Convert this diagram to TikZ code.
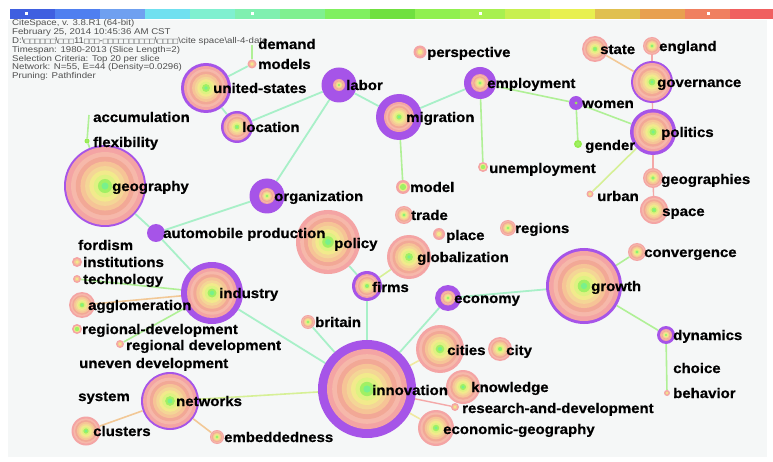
\documentclass[tikz,border=0pt]{standalone}
\usepackage{fontspec}
\setmainfont{Liberation Sans}
\newfontfamily\lblfont[FakeStretch=1.07,FakeBold=0.6]{Liberation Sans}
\newfontfamily\hdrfont[FakeStretch=1.15]{Liberation Sans}
\newfontfamily\sqfont{DejaVu Sans}
\pgfdeclarelayer{back}
\pgfdeclarelayer{edges}
\pgfsetlayers{back,edges,main}
\definecolor{cbg}{RGB}{245,247,247}
\definecolor{chdr}{RGB}{80,80,80}
\definecolor{cpurple}{RGB}{166,84,232}
\definecolor{cA1}{RGB}{244,164,164}
\definecolor{cA2}{RGB}{246,184,170}
\definecolor{cA3}{RGB}{242,168,150}
\definecolor{cA4}{RGB}{246,196,150}
\definecolor{cA5}{RGB}{244,214,150}
\definecolor{cA6}{RGB}{242,234,140}
\definecolor{cA7}{RGB}{222,242,130}
\definecolor{cA8}{RGB}{160,240,100}
\definecolor{cA9}{RGB}{120,240,140}
\definecolor{cG1}{RGB}{150,236,80}
\definecolor{cemint}{RGB}{168,240,200}
\definecolor{cegreen}{RGB}{176,240,150}
\definecolor{ceyg}{RGB}{214,240,150}
\definecolor{ceyel}{RGB}{240,232,160}
\definecolor{ceora}{RGB}{242,200,150}
\definecolor{cepink}{RGB}{244,168,168}
\def\palA{1/cA1,0.87/cA2,0.75/cA3,0.63/cA4,0.51/cA5,0.40/cA6,0.29/cA7,0.18/cA8,0.09/cA9}
\def\palS{1/cA1,0.62/cA4,0.35/cA6}
\def\palSG{1/cA1,0.65/cA6,0.45/cA8}
\def\palG{1/cG1,0.5/cA8}
\newcommand\kwnode[6]{%
  \ifdim #4pt>#5pt \fill[cpurple] (#2,#3) circle (#4);\fi
  \ifdim #5pt>0pt
    \foreach \f/\c in #6 {\fill[\c] (#2,#3) circle ({\f*#5});}
  \fi
  \node[circle,inner sep=0pt,minimum size={2*#4pt}] (#1) at (#2,#3) {};
}
\newcommand\hsq{\makebox[5.2pt][c]{\sqfont\fontsize{6.5}{7}\selectfont\char"25A1}}
\newcommand\bsl{\textbackslash}
\begin{document}
\begin{tikzpicture}[x=1pt,y=-1pt,
  lbl/.style={anchor=base west,inner sep=0pt,text=black,font=\lblfont\bfseries\fontsize{14}{15}\selectfont},
  emint/.style={draw=cemint,line width=1.8pt},
  egreen/.style={draw=cegreen,line width=1.6pt},
  eyg/.style={draw=ceyg,line width=1.6pt},
  eyel/.style={draw=ceyel,line width=1.6pt},
  eora/.style={draw=ceora,line width=1.6pt},
  epink/.style={draw=cepink,line width=1.4pt}]
\useasboundingbox (0,0) rectangle (773,462);
\begin{pgfonlayer}{back}
\fill[white] (0,0) rectangle (773,462);
\fill[cbg] (8,20) rectangle (767,457);
\foreach \c [count=\i from 0] in {{63,95,224},{79,127,240},{111,160,240},{112,224,240},{128,240,208},{128,240,176},{128,240,144},{128,240,96},{112,224,64},{144,240,80},{168,240,80},{200,240,80},{232,240,80},{224,192,80},{232,160,80},{240,128,96},{240,96,96}}{
  \definecolor{cbar}{RGB}{\c}
  \fill[cbar] ({10+\i*45},9) rectangle ({10+(\i+1)*45},19);
}
\foreach \xx in {26,252,480,708} \fill[white] (\xx-1.5,12.5) rectangle (\xx+1.5,15);
\end{pgfonlayer}
\node[anchor=north west,inner sep=0pt,align=left,text=chdr,font=\hdrfont\fontsize{8.4}{7.7}\selectfont] (hdr) at (12,19.5) {CiteSpace, v. 3.8.R1 (64-bit)\\
February 25, 2014 10:45:36 AM CST\\
D:\bsl\hsq\hsq\hsq\hsq\hsq\hsq\bsl\hsq\hsq\hsq11\hsq\hsq\hsq-\hsq\hsq\hsq\hsq\hsq\hsq\hsq\hsq\hsq\hsq\bsl\hsq\hsq\hsq\hsq\bsl cite space\bsl all-4-date\\
Timespan: 1980-2013 (Slice Length=2)\\
Selection Criteria: Top 20 per slice\\
Network: N=55, E=44 (Density=0.0296)\\
Pruning: Pathfinder};
% nodes
\coordinate (demand) at (252,45);
\coordinate (accumulation) at (89,115);
\kwnode{models}{252}{64}{4.5}{4.5}{\palS}
\kwnode{us}{206}{88}{25}{22}{\palA}
\kwnode{location}{237}{127}{16}{13.5}{\palA}
\kwnode{labor}{339}{85}{17.5}{6}{\palA}
\kwnode{perspective}{420}{52}{6.5}{6.5}{\palS}
\kwnode{migration}{399}{117}{23}{15}{\palA}
\kwnode{employment}{480}{83}{16}{9}{\palA}
\kwnode{unemployment}{483}{167}{5}{5}{\palSG}
\kwnode{women}{576}{103}{7}{1.5}{\palG}
\kwnode{gender}{578}{144}{4}{4}{\palG}
\kwnode{model}{403}{187}{7}{7}{\palSG}
\kwnode{urban}{590}{194}{3.5}{3.5}{\palS}
\kwnode{state}{595}{49}{13}{13}{\palA}
\kwnode{england}{652}{46}{9}{9}{\palA}
\kwnode{governance}{652}{82}{21}{19}{\palA}
\kwnode{politics}{653}{132}{23}{19.5}{\palA}
\kwnode{geographies}{653}{178}{10}{10}{\palA}
\kwnode{space}{654}{210}{14}{14}{\palA}
\kwnode{regions}{508}{228}{8}{8}{\palA}
\kwnode{flexibility}{87}{141}{2.5}{2.5}{\palG}
\kwnode{geography}{105}{186}{41}{39}{\palA}
\kwnode{organization}{267}{196}{17.5}{8}{\palA}
\kwnode{auto}{156}{233}{9}{0}{\palA}
\kwnode{policy}{328}{242}{32}{32}{\palA}
\kwnode{trade}{404}{215}{9}{9}{\palA}
\kwnode{place}{439}{234}{6}{6}{\palS}
\kwnode{globalization}{409}{257}{22}{22}{\palA}
\kwnode{firms}{367}{286}{15}{12}{\palA}
\kwnode{economy}{448}{298}{13}{7.5}{\palA}
\kwnode{institutions}{77}{262}{5}{5}{\palS}
\kwnode{technology}{77}{279}{4}{4}{\palS}
\kwnode{agglomeration}{82}{305}{13}{13}{\palA}
\kwnode{industry}{212}{293}{31}{25}{\palA}
\kwnode{regdevA}{77}{329}{5}{5}{\palSG}
\kwnode{regdevB}{120}{344}{4}{4}{\palS}
\kwnode{networks}{170}{401}{29}{27}{\palA}
\kwnode{clusters}{86}{431}{14.5}{14.5}{\palA}
\kwnode{embed}{217}{437}{7}{7}{\palA}
\kwnode{britain}{308}{322}{7}{7}{\palA}
\kwnode{innovation}{367}{389}{49}{40}{\palA}
\kwnode{cities}{440}{349}{24}{24}{\palA}
\kwnode{city}{500}{349}{12}{12}{\palA}
\kwnode{knowledge}{463}{387}{17}{17}{\palA}
\kwnode{rnd}{455}{407}{4}{4}{\palS}
\kwnode{econgeo}{436}{428}{18}{18}{\palA}
\kwnode{growth}{584}{286}{38}{35}{\palA}
\kwnode{convergence}{637}{252}{9}{9}{\palA}
\kwnode{dynamics}{666}{335}{9}{6}{\palA}
\kwnode{behavior}{667}{393}{3}{3}{\palS}
% labels
\node[lbl] (t-demand) at (258,49) {demand};
\node[lbl] (t-models) at (258,69) {models};
\node[lbl] (t-us) at (213,93) {united-states};
\node[lbl] (t-location) at (242,132) {location};
\node[lbl] (t-labor) at (346,90) {labor};
\node[lbl] (t-perspective) at (427,57) {perspective};
\node[lbl] (t-migration) at (406,122) {migration};
\node[lbl] (t-employment) at (487,88) {employment};
\node[lbl] (t-unemployment) at (489,173) {unemployment};
\node[lbl] (t-women) at (582,108) {women};
\node[lbl] (t-gender) at (585,150) {gender};
\node[lbl] (t-model) at (410,192) {model};
\node[lbl] (t-urban) at (597,201) {urban};
\node[lbl] (t-state) at (600,54) {state};
\node[lbl] (t-england) at (659,51) {england};
\node[lbl] (t-governance) at (657,87) {governance};
\node[lbl] (t-politics) at (661,137) {politics};
\node[lbl] (t-geographies) at (661,184) {geographies};
\node[lbl] (t-space) at (662,216) {space};
\node[lbl] (t-regions) at (515,233) {regions};
\node[lbl] (t-accumulation) at (93,122) {accumulation};
\node[lbl] (t-flexibility) at (93,147) {flexibility};
\node[lbl] (t-geography) at (112,191) {geography};
\node[lbl] (t-organization) at (274,201) {organization};
\node[lbl] (t-auto) at (163,238) {automobile production};
\node[lbl] (t-policy) at (334,248) {policy};
\node[lbl] (t-trade) at (411,220) {trade};
\node[lbl] (t-place) at (446,240) {place};
\node[lbl] (t-globalization) at (417,262) {globalization};
\node[lbl] (t-firms) at (372,292) {firms};
\node[lbl] (t-economy) at (454,303) {economy};
\node[lbl] (t-fordism) at (78,250) {fordism};
\node[lbl] (t-institutions) at (83,267) {institutions};
\node[lbl] (t-technology) at (83,284) {technology};
\node[lbl] (t-agglomeration) at (88,310) {agglomeration};
\node[lbl] (t-industry) at (219,298) {industry};
\node[lbl] (t-regdevA) at (82,334) {regional-development};
\node[lbl] (t-regdevB) at (126,350) {regional development};
\node[lbl] (t-uneven) at (79,368) {uneven development};
\node[lbl] (t-system) at (78,401) {system};
\node[lbl] (t-networks) at (176,406) {networks};
\node[lbl] (t-clusters) at (93,436) {clusters};
\node[lbl] (t-embed) at (224,442) {embeddedness};
\node[lbl] (t-britain) at (315,327) {britain};
\node[lbl] (t-innovation) at (372,395) {innovation};
\node[lbl] (t-cities) at (447,355) {cities};
\node[lbl] (t-city) at (506,355) {city};
\node[lbl] (t-knowledge) at (471,392) {knowledge};
\node[lbl] (t-rnd) at (462,413) {research-and-development};
\node[lbl] (t-econgeo) at (443,434) {economic-geography};
\node[lbl] (t-growth) at (591,291) {growth};
\node[lbl] (t-convergence) at (644,257) {convergence};
\node[lbl] (t-dynamics) at (673,340) {dynamics};
\node[lbl] (t-choice) at (673,373) {choice};
\node[lbl] (t-behavior) at (673,398) {behavior};
% edges
\begin{pgfonlayer}{edges}
\draw[egreen] (demand) -- (models);
\draw[emint] (models) -- (us);
\draw[emint] (us) -- (location);
\draw[emint] (location) -- (labor);
\draw[emint] (labor) -- (migration);
\draw[emint] (labor) -- (organization);
\draw[emint] (migration) -- (employment);
\draw[egreen] (migration) -- (model);
\draw[egreen] (employment) -- (unemployment);
\draw[egreen] (employment) -- (women);
\draw[egreen] (women) -- (gender);
\draw[egreen] (women) -- (politics);
\draw[eyg] (politics) -- (urban);
\draw[epink] (politics) -- (governance);
\draw[eora] (governance) -- (state);
\draw[epink] (governance) -- (england);
\draw[epink] (politics) -- (geographies);
\draw[epink] (geographies) -- (space);
\draw[egreen] (accumulation) -- (flexibility);
\draw[egreen] (flexibility) -- (geography);
\draw[emint] (geography) -- (auto);
\draw[emint] (auto) -- (organization);
\draw[emint] (auto) -- (industry);
\draw[emint] (policy) -- (firms);
\draw[eyg] (firms) -- (globalization);
\draw[emint] (firms) -- (innovation);
\draw[emint] (economy) -- (innovation);
\draw[emint] (economy) -- (growth);
\draw[egreen] (growth) -- (convergence);
\draw[egreen] (growth) -- (dynamics);
\draw[egreen] (dynamics) -- (behavior);
\draw[emint] (industry) -- (innovation);
\draw[egreen] (industry) -- (technology);
\draw[eora] (industry) -- (agglomeration);
\draw[egreen] (industry) -- (regdevB);
\draw[emint] (innovation) -- (britain);
\draw[eyg] (innovation) -- (networks);
\draw[eyel] (innovation) -- (cities);
\draw[epink] (innovation) -- (rnd);
\draw[eyel] (innovation) -- (econgeo);
\draw[eora] (networks) -- (clusters);
\draw[eora] (networks) -- (embed);
\end{pgfonlayer}
\end{tikzpicture}
\end{document}
